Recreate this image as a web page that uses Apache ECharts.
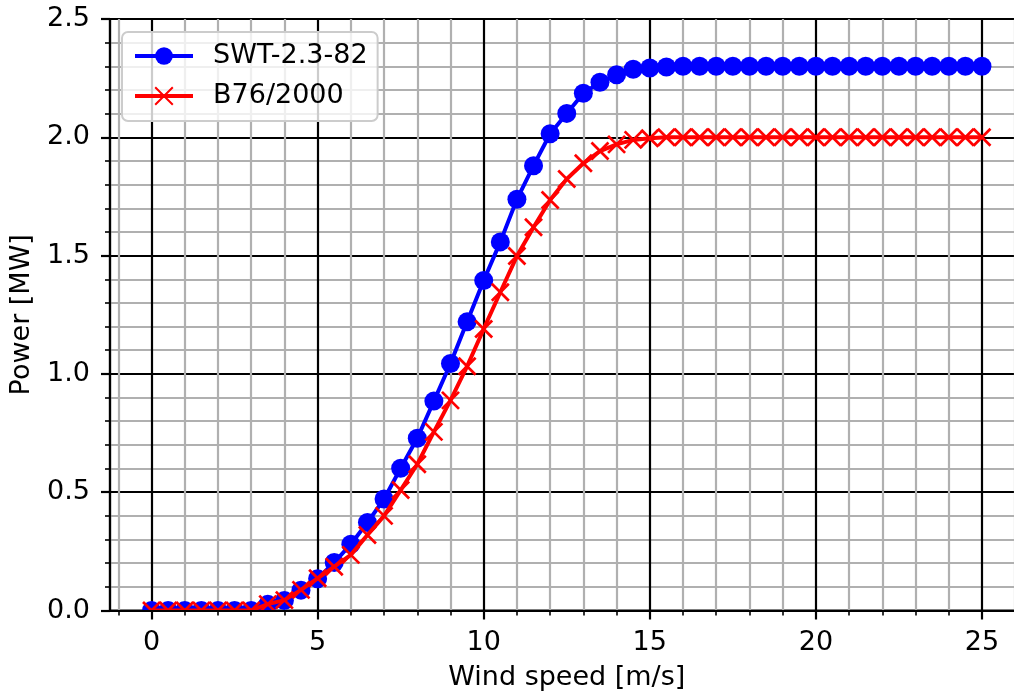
<!DOCTYPE html>
<html>
<head>
<meta charset="utf-8">
<script src="https://cdn.jsdelivr.net/npm/echarts@6/dist/echarts.min.js"></script>
<style>
  html, body { margin: 0; padding: 0; background: #fff; }
  #power-chart { width: 1014px; height: 695px; }
</style>
</head>
<body>
<div id="power-chart"></div>
<script>
// wind speed [m/s]
const windSpeed = [
  0, 0.5, 1, 1.5, 2, 2.5, 3, 3.5, 4, 4.5, 5, 5.5, 6, 6.5, 7, 7.5, 8, 8.5, 9, 9.5,
  10, 10.5, 11, 11.5, 12, 12.5, 13, 13.5, 14, 14.5, 15, 15.5, 16, 16.5, 17, 17.5,
  18, 18.5, 19, 19.5, 20, 20.5, 21, 21.5, 22, 22.5, 23, 23.5, 24, 24.5, 25
];
// power curve SWT-2.3-82 [MW]
const swtPower = [
  0, 0, 0, 0, 0, 0, 0, 0.026, 0.042, 0.086, 0.134, 0.203, 0.28, 0.372, 0.471, 0.601,
  0.728, 0.885, 1.044, 1.22, 1.395, 1.558, 1.738, 1.88, 2.015, 2.101, 2.186, 2.233,
  2.264, 2.288, 2.293, 2.297, 2.3, 2.3, 2.3, 2.3, 2.3, 2.3, 2.3, 2.3, 2.3, 2.3, 2.3,
  2.3, 2.3, 2.3, 2.3, 2.3, 2.3, 2.3, 2.3
];
// power curve B76/2000 [MW]
const bonusPower = [
  0, 0, 0, 0, 0, 0, 0, 0.027, 0.044, 0.087, 0.136, 0.185, 0.235, 0.319, 0.4, 0.509,
  0.618, 0.755, 0.888, 1.032, 1.19, 1.345, 1.498, 1.62, 1.735, 1.824, 1.89, 1.942,
  1.97, 1.989, 1.996, 2.0, 2.0, 2.0, 2.0, 2.0, 2.0, 2.0, 2.0, 2.0, 2.0, 2.0, 2.0,
  2.0, 2.0, 2.0, 2.0, 2.0, 2.0, 2.0, 2.0
];
// tick positions on the wind speed axis
const xMajorTicks = [0, 5, 10, 15, 20, 25];
const xMinorTicks = [-1, 1, 2, 3, 4, 6, 7, 8, 9, 11, 12, 13, 14, 16, 17, 18, 19, 21, 22, 23, 24, 26];
const xRange = [-1.25, 26.25];
const yRange = [0, 2.5];

const FONT = 'DejaVu Sans';
const crossPath = 'path://M0,0L10,10M10,0L0,10';

const toPairs = (xs, ys) => xs.map((x, i) => [x, ys[i]]);

// x axes: two for the grid lines (below the curves), two for ticks/labels (on top)
function xGridAxis(ticks, color) {
  return {
    type: 'value', min: xRange[0], max: xRange[1], position: 'bottom',
    axisLine: { show: false, onZero: false },
    axisTick: { show: false, customValues: ticks },
    axisLabel: { show: false, customValues: ticks },
    splitLine: { show: true, lineStyle: { color: color, width: 2.2 } },
    z: 0
  };
}

const option = {
  animation: false,
  textStyle: { fontFamily: FONT, color: '#000' },
  grid: {
    left: 110, top: 19, width: 913.5, height: 591.5,
    outerBoundsMode: 'none', containLabel: false,
    show: true, borderColor: '#000', borderWidth: 2.2, backgroundColor: 'transparent'
  },
  legend: {
    orient: 'vertical',
    left: 122, top: 32,
    padding: [9, 10, 10, 11],
    itemWidth: 58, itemHeight: 22, itemGap: 10,
    backgroundColor: 'rgba(255,255,255,0.8)',
    borderColor: '#cccccc', borderWidth: 2, borderRadius: 6,
    lineStyle: { width: 4 },
    textStyle: { fontFamily: FONT, fontSize: 27, color: '#000', lineHeight: 30, padding: [0, 0, 0, 15] },
    data: ['SWT-2.3-82', 'B76/2000'],
    z: 20
  },
  xAxis: [
    {
      type: 'value', min: xRange[0], max: xRange[1], position: 'bottom',
      name: 'Wind speed [m/s]', nameLocation: 'middle', nameGap: 54,
      nameTextStyle: { fontFamily: FONT, fontSize: 27, color: '#000' },
      axisLine: { show: true, onZero: false, lineStyle: { color: '#000', width: 2.2 } },
      axisTick: { show: true, inside: false, length: 9, customValues: xMajorTicks, lineStyle: { color: '#000', width: 2.2 } },
      axisLabel: { show: true, margin: 19, fontSize: 27, fontFamily: FONT, color: '#000', customValues: xMajorTicks },
      splitLine: { show: false },
      z: 12
    },
    {
      type: 'value', min: xRange[0], max: xRange[1], position: 'bottom',
      axisLine: { show: false, onZero: false },
      axisTick: { show: true, inside: false, length: 5, customValues: xMinorTicks, lineStyle: { color: '#000', width: 1.6 } },
      axisLabel: { show: false, customValues: xMinorTicks },
      splitLine: { show: false },
      z: 12
    },
    xGridAxis(xMinorTicks, '#b0b0b0'),
    xGridAxis(xMajorTicks, '#000')
  ],
  yAxis: {
    type: 'value', min: yRange[0], max: yRange[1], interval: 0.5,
    name: 'Power [MW]', nameLocation: 'middle', nameGap: 75,
    nameTextStyle: { fontFamily: FONT, fontSize: 27, color: '#000' },
    axisLine: { show: true, onZero: false, lineStyle: { color: '#000', width: 2.2 } },
    axisTick: { show: true, inside: false, length: 9, lineStyle: { color: '#000', width: 2.2 } },
    minorTick: { show: true, splitNumber: 5, length: 5, lineStyle: { color: '#000', width: 1.6 } },
    axisLabel: { margin: 20, fontSize: 27, fontFamily: FONT, color: '#000', formatter: v => v.toFixed(1) },
    splitLine: { show: true, lineStyle: { color: '#000', width: 2.2 } },
    minorSplitLine: { show: true, lineStyle: { color: '#b0b0b0', width: 2.2 } }
  },
  series: [
    {
      name: 'SWT-2.3-82', type: 'line', xAxisIndex: 0,
      data: toPairs(windSpeed, swtPower),
      symbol: 'circle', symbolSize: 19,
      itemStyle: { color: '#0000ff' },
      lineStyle: { color: '#0000ff', width: 4 },
      z: 4
    },
    {
      name: 'B76/2000', type: 'line', xAxisIndex: 0,
      data: toPairs(windSpeed, bonusPower),
      symbol: crossPath, symbolSize: 17,
      itemStyle: { color: '#ff0000', borderColor: '#ff0000', borderWidth: 2.7 },
      lineStyle: { color: '#ff0000', width: 4 },
      z: 5
    }
  ]
};

const chart = echarts.init(document.getElementById('power-chart'));
chart.setOption(option);

// clip the markers at the bottom of the axes box, like the plot area does
const bottomLeft = chart.convertToPixel({ gridIndex: 0 }, [xRange[0], yRange[0]]);
const bottomRight = chart.convertToPixel({ gridIndex: 0 }, [xRange[1], yRange[0]]);
chart.setOption({
  graphic: [{
    type: 'rect', silent: true, z: 10,
    shape: { x: bottomLeft[0], y: bottomLeft[1] + 1, width: bottomRight[0] - bottomLeft[0], height: 12 },
    style: { fill: '#fff' }
  }]
});
</script>
</body>
</html>
